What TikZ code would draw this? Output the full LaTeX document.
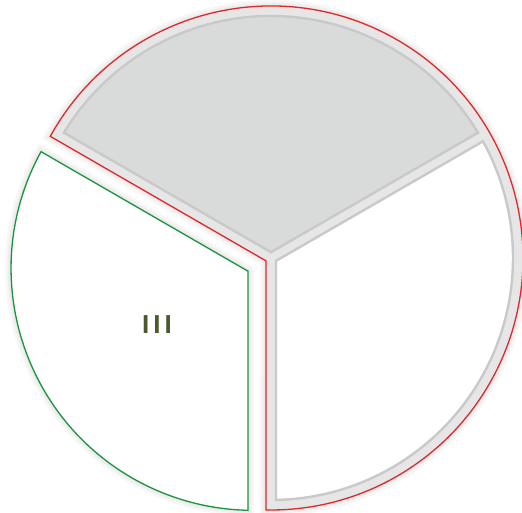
\documentclass[tikz,border=0pt]{standalone}
\usepackage{fontspec}
\setmainfont{Liberation Sans}
\usetikzlibrary{calc}
\definecolor{redline}{HTML}{E0282A}
\definecolor{greenline}{HTML}{1B9440}
\definecolor{bandgrey}{HTML}{E6E6E6}
\definecolor{innergrey}{HTML}{C9C9C9}
\definecolor{topfill}{HTML}{D9DADA}
\definecolor{labelcol}{HTML}{4B5A2E}
\tikzset{
  redoutline/.style={draw=redline, line width=1.3pt, fill=bandgrey},
  innersector/.style={draw=innergrey, line width=2.4pt},
  greensector/.style={draw=greenline, line width=1.3pt, fill=white},
  halo/.style={draw=black, line width=#1, opacity=0.03},
  seclabel/.style={text=labelcol, font=\bfseries\fontsize{26}{30}\selectfont, inner sep=0pt}
}
\begin{document}
\begin{tikzpicture}[x=1pt,y=1pt]
\useasboundingbox (0,0) rectangle (522,513);
\coordinate (C) at (271,255);
\coordinate (G) at ($(C)+(210:20.7)$);
% soft shadows
\foreach \w in {12pt,7pt,3pt}{
  \path[halo=\w] ($(G)+(210:5.77)$) -- ($(G)+(151.18:242)$) arc[start angle=151.18, end angle=268.82, radius=242] -- cycle;
  \path[halo=\w] ($(C)+(210:5.77)$) -- ($(C)+(151.14:252)$) arc[start angle=151.14, end angle=-91.14, radius=252] -- cycle;
}
% red outlined group
\path[redoutline] ($(C)+(210:5.77)$) -- ($(C)+(151.14:252)$) arc[start angle=151.14, end angle=-91.14, radius=252] -- cycle;
% top sector
\path[innersector, fill=topfill] ($(C)+(90:5.77)$) -- ($(C)+(31.18:242)$) arc[start angle=31.18, end angle=148.82, radius=242] -- cycle;
% right sector
\path[innersector, fill=white] ($(C)+(-30:5.77)$) -- ($(C)+(-88.82:242)$) arc[start angle=-88.82, end angle=28.82, radius=242] -- cycle;
% exploded green sector
\path[greensector] ($(G)+(210:5.77)$) -- ($(G)+(151.18:242)$) arc[start angle=151.18, end angle=268.82, radius=242] -- cycle;
\node[seclabel] (lbl) at (157,188) {I\hspace{4pt}I\hspace{4pt}I};
\end{tikzpicture}
\end{document}
